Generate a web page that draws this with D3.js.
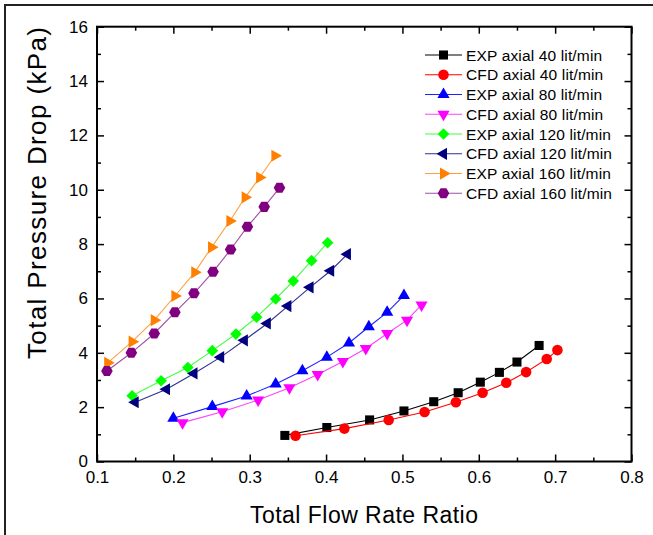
<!DOCTYPE html>
<html><head><meta charset="utf-8">
<script src="https://cdn.jsdelivr.net/npm/d3@7"></script>
<style>
html,body{margin:0;padding:0;background:#fff;}
svg{display:block;font-family:"Liberation Sans",Arial,sans-serif;}
</style></head>
<body>
<svg id="chart" width="653" height="535"></svg>
<script>
// ---- data ----
const seriesNames = ["EXP axial 40 lit/min","CFD axial 40 lit/min","EXP axial 80 lit/min","CFD axial 80 lit/min","EXP axial 120 lit/min","CFD axial 120 lit/min","EXP axial 160 lit/min","CFD axial 160 lit/min"];
const expAxial40X = [0.346,0.401,0.457,0.502,0.541,0.573,0.602,0.627,0.650,0.679];
const expAxial40Y = [0.96,1.25,1.53,1.86,2.20,2.53,2.92,3.28,3.66,4.27];
const cfdAxial40X = [0.360,0.424,0.482,0.529,0.570,0.605,0.636,0.662,0.689,0.703];
const cfdAxial40Y = [0.95,1.21,1.53,1.82,2.18,2.53,2.90,3.29,3.77,4.10];
const expAxial80X = [0.200,0.251,0.296,0.334,0.369,0.401,0.430,0.456,0.480,0.502];
const expAxial80Y = [1.59,2.02,2.41,2.85,3.34,3.84,4.36,4.96,5.49,6.11];
const cfdAxial80X = [0.212,0.264,0.311,0.352,0.389,0.422,0.452,0.480,0.506,0.525];
const cfdAxial80Y = [1.43,1.83,2.26,2.71,3.20,3.68,4.16,4.71,5.20,5.76];
const expAxial120X = [0.146,0.184,0.219,0.251,0.282,0.309,0.334,0.357,0.381,0.402];
const expAxial120Y = [2.42,2.97,3.46,4.08,4.69,5.31,5.98,6.64,7.39,8.05];
const cfdAxial120X = [0.150,0.191,0.227,0.262,0.293,0.323,0.350,0.379,0.406,0.428];
const cfdAxial120Y = [2.18,2.66,3.24,3.84,4.46,5.08,5.72,6.41,7.02,7.63];
const expAxial160X = [0.114,0.146,0.175,0.202,0.228,0.250,0.274,0.294,0.313,0.333];
const expAxial160Y = [3.63,4.41,5.20,6.09,6.96,7.88,8.85,9.72,10.45,11.25];
const cfdAxial160X = [0.113,0.145,0.175,0.202,0.227,0.252,0.275,0.297,0.319,0.339];
const cfdAxial160Y = [3.33,4.00,4.71,5.49,6.19,6.98,7.80,8.64,9.37,10.07];
const xTicks = [0.1,0.2,0.3,0.4,0.5,0.6,0.7,0.8];
const yTicks = [0,2,4,6,8,10,12,14,16];
const xLabel = "Total Flow Rate Ratio";
const yLabel = "Total Pressure Drop (kPa)";

// ---- styles ----
const colors = ["#000000","#ff0000","#0000ff","#ff00ff","#00ff00","#000080","#ff8000","#800080"];
const lineColors = ["#000000","#ff0000","#2020ff","#ff40ff","#40ff40","#303090","#ffa040","#a050a0"];
const shapes = ["square","circle","triUp","triDown","diamond","triLeft","triRight","hexagon"];
const xs = [expAxial40X,cfdAxial40X,expAxial80X,cfdAxial80X,expAxial120X,cfdAxial120X,expAxial160X,cfdAxial160X];
const ys = [expAxial40Y,cfdAxial40Y,expAxial80Y,cfdAxial80Y,expAxial120Y,cfdAxial120Y,expAxial160Y,cfdAxial160Y];

const L = 97, R = 631.5, T = 26.7, B = 461.5;
const x = d3.scaleLinear().domain([0.1,0.8]).range([L,R]);
const y = d3.scaleLinear().domain([0,16]).range([B,T]);

const svg = d3.select("#chart");

// outer frame
svg.append("path").attr("d","M5,540V5H660").attr("fill","none").attr("stroke","#222").attr("stroke-width",2);

function markerPath(shape){
  const tri = d3.symbol().type(d3.symbolTriangle).size(64)();
  switch(shape){
    case "square": return {d:d3.symbol().type(d3.symbolSquare).size(82)(), rot:0};
    case "circle": return {d:d3.symbol().type(d3.symbolCircle).size(88)(), rot:0};
    case "triUp": return {d:tri, rot:0};
    case "triDown": return {d:tri, rot:180};
    case "triLeft": return {d:tri, rot:-90};
    case "triRight": return {d:tri, rot:90};
    case "diamond": return {d:d3.symbol().type(d3.symbolSquare).size(68)(), rot:45};
    case "hexagon": {
      const r = 5.8; const pts = d3.range(6).map(i=>{const a=Math.PI/3*i; return [r*Math.cos(a), r*Math.sin(a)];});
      return {d:"M"+pts.map(p=>p.join(",")).join("L")+"Z", rot:0};
    }
  }
}

const line = d3.line().x(d=>x(d[0])).y(d=>y(d[1]));
const plot = svg.append("g");
xs.forEach((xv,i)=>{
  const pts = xv.map((v,j)=>[v, ys[i][j]]);
  plot.append("path").datum(pts).attr("d",line).attr("fill","none").attr("stroke",lineColors[i]).attr("stroke-width",1.1);
  const m = markerPath(shapes[i]);
  plot.selectAll(null).data(pts).enter().append("path")
    .attr("d",m.d)
    .attr("transform",d=>`translate(${x(d[0])},${y(d[1])}) rotate(${m.rot})`)
    .attr("fill",colors[i]);
});

// axes
const axisG = svg.append("g");
const xMinor = d3.range(0.15,0.8,0.1);
const yMinor = d3.range(1,16,2);
function styleAxis(g){ g.select(".domain").remove(); g.selectAll("line").attr("stroke","#000").attr("stroke-width",1.5); g.selectAll("text").attr("fill","#000").attr("font-family","Liberation Sans, Arial, sans-serif").attr("font-size",17); }
axisG.append("g").attr("transform",`translate(0,${B})`).call(d3.axisBottom(x).tickValues(xTicks).tickFormat(d3.format(".1f")).tickSizeInner(-7).tickSizeOuter(0).tickPadding(9)).call(styleAxis);
axisG.append("g").attr("transform",`translate(0,${B})`).call(d3.axisBottom(x).tickValues(xMinor).tickFormat("").tickSizeInner(-4).tickSizeOuter(0)).call(styleAxis);
axisG.append("g").attr("transform",`translate(0,${T})`).call(d3.axisTop(x).tickValues(xTicks).tickFormat("").tickSizeInner(-7).tickSizeOuter(0)).call(styleAxis);
axisG.append("g").attr("transform",`translate(0,${T})`).call(d3.axisTop(x).tickValues(xMinor).tickFormat("").tickSizeInner(-4).tickSizeOuter(0)).call(styleAxis);
axisG.append("g").attr("transform",`translate(${L},0)`).call(d3.axisLeft(y).tickValues(yTicks).tickFormat(d3.format("d")).tickSizeInner(-7).tickSizeOuter(0).tickPadding(9)).call(styleAxis);
axisG.append("g").attr("transform",`translate(${L},0)`).call(d3.axisLeft(y).tickValues(yMinor).tickFormat("").tickSizeInner(-4).tickSizeOuter(0)).call(styleAxis);
axisG.append("g").attr("transform",`translate(${R},0)`).call(d3.axisRight(y).tickValues(yTicks).tickFormat("").tickSizeInner(-7).tickSizeOuter(0)).call(styleAxis);
axisG.append("g").attr("transform",`translate(${R},0)`).call(d3.axisRight(y).tickValues(yMinor).tickFormat("").tickSizeInner(-4).tickSizeOuter(0)).call(styleAxis);
svg.append("rect").attr("x",L).attr("y",T).attr("width",R-L).attr("height",B-T).attr("fill","none").attr("stroke","#000").attr("stroke-width",2);

// axis titles
svg.append("text").attr("x",364).attr("y",523).attr("text-anchor","middle").attr("font-size",23)
  .attr("textLength",228).attr("lengthAdjust","spacing").attr("fill","#000").text(xLabel);
svg.append("text").attr("transform",`translate(46,193) rotate(-90)`).attr("text-anchor","middle").attr("font-size",26)
  .attr("textLength",332).attr("lengthAdjust","spacing").attr("fill","#000").text(yLabel);

// legend
const lg = svg.append("g");
seriesNames.forEach((name,i)=>{
  const yy = 55 + i*19.76;
  lg.append("line").attr("x1",425).attr("x2",462).attr("y1",yy).attr("y2",yy).attr("stroke",lineColors[i]).attr("stroke-width",1.1);
  const m = markerPath(shapes[i]);
  lg.append("path").attr("d",m.d).attr("transform",`translate(443.5,${yy}) rotate(${m.rot})`).attr("fill",colors[i]);
  lg.append("text").attr("x",466).attr("y",yy+5.5).attr("font-size",15.5).attr("letter-spacing",0.15).attr("fill","#000").text(name);
});
</script>
</body></html>
